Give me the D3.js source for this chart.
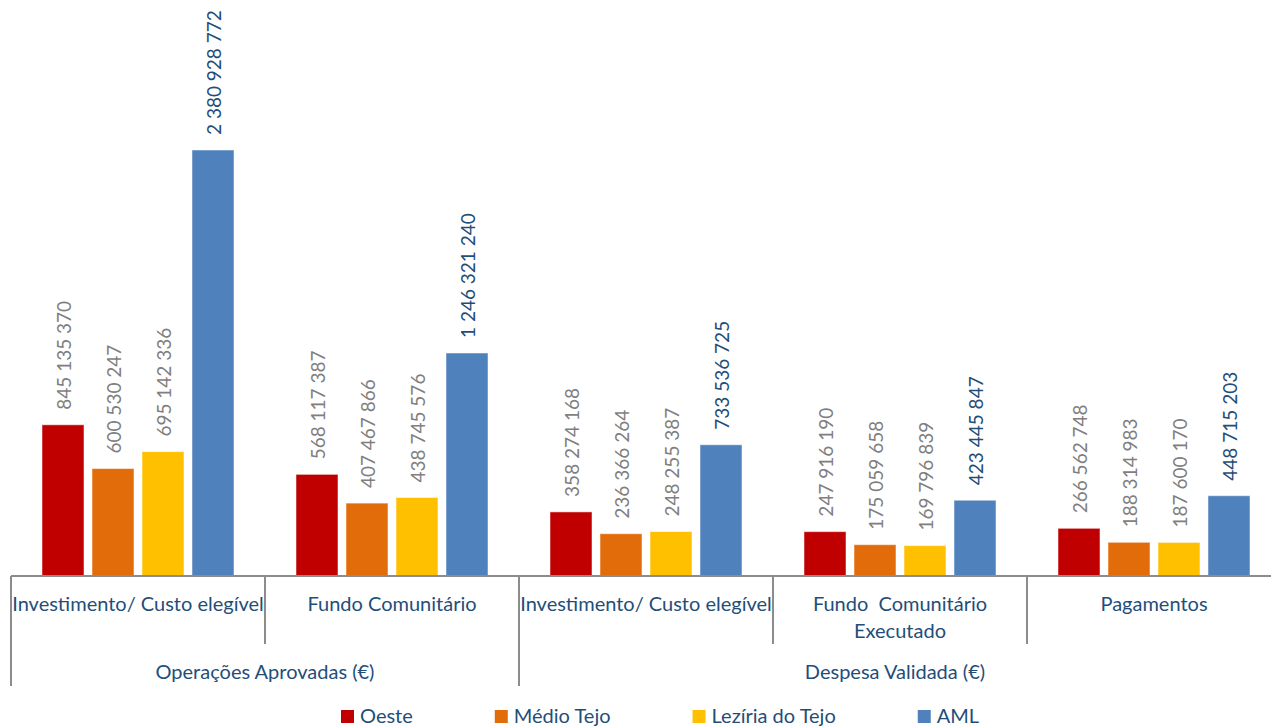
<!DOCTYPE html>
<html>
<head>
<meta charset="utf-8">
<script src="https://cdn.jsdelivr.net/npm/d3@7"></script>
<style>
  body { margin: 0; background: #fff; }
  text { font-family: Lato, "Open Sans", sans-serif; }
</style>
</head>
<body>
<div id="chart"></div>
<script>
// data
const series = ['Oeste', 'Médio Tejo', 'Lezíria do Tejo', 'AML'];
const categories = [
  ['Investimento/ Custo elegível'],
  ['Fundo Comunitário'],
  ['Investimento/ Custo elegível'],
  ['Fundo  Comunitário', 'Executado'],
  ['Pagamentos']
];
const groups = ['Operações Aprovadas (€)', 'Despesa Validada (€)'];
const groupSpans = [[0, 2], [2, 5]];
const oeste = [845135370, 568117387, 358274168, 247916190, 266562748];
const medioTejo = [600530247, 407467866, 236366264, 175059658, 188314983];
const leziria = [695142336, 438745576, 248255387, 169796839, 187600170];
const aml = [2380928772, 1246321240, 733536725, 423445847, 448715203];

const values = [oeste, medioTejo, leziria, aml];
const colors = ['#c00000', '#e36c0a', '#ffc000', '#4f81bd'];

let width = 1271,
  height = 727,
  baseY = 576,
  axisColor = '#8c8c8c',
  textBlue = '#1f4e79';

let svg = d3.select('#chart')
  .append('svg')
  .attr('width', width)
  .attr('height', height);

// outer scale for the five categories
let x0 = d3.scaleBand()
  .domain(d3.range(categories.length))
  .range([11, 11 + 254 * categories.length]);

// inner scale for the four regions
let x1 = d3.scaleBand()
  .domain(series)
  .range([0, x0.bandwidth()])
  .paddingInner(0.16)
  .paddingOuter(0.62);

let y = d3.scaleLinear()
  .domain([0, 2.5e9])
  .range([baseY, baseY - 426 * 2.5e9 / 2380928772]);

let fmt = v => d3.format(',')(v).replace(/,/g, ' ');

// bars
let rows = [];
categories.forEach((c, i) => {
  series.forEach((s, j) => {
    rows.push({ cat: i, s: s, j: j, v: values[j][i] });
  });
});

svg.append('g')
  .selectAll('rect')
  .data(rows)
  .enter()
  .append('rect')
    .attr('x', d => x0(d.cat) + x1(d.s))
    .attr('y', d => y(d.v))
    .attr('width', x1.bandwidth())
    .attr('height', d => baseY - y(d.v))
    .attr('fill', d => colors[d.j])
    .attr('stroke', 'rgba(255,255,255,0.5)')
    .attr('stroke-width', 1);

// value labels, rotated
svg.append('g')
  .selectAll('text')
  .data(rows)
  .enter()
  .append('text')
    .attr('transform', d => `translate(${x0(d.cat) + x1(d.s) + x1.bandwidth() / 2 + 1}, ${y(d.v) - 15}) rotate(-90)`)
    .attr('dy', '0.36em')
    .style('font-size', '19px')
    .style('fill', d => d.j === 3 ? textBlue : '#7f7f7f')
    .text(d => fmt(d.v));

// baseline
svg.append('line')
  .attr('x1', 11).attr('x2', width)
  .attr('y1', baseY).attr('y2', baseY)
  .attr('stroke', axisColor)
  .attr('stroke-width', 2);

// separators between categories
let sepLong = [0, 2];
d3.range(categories.length).forEach(i => {
  let x = Math.round(x0(i));
  svg.append('line')
    .attr('x1', x).attr('x2', x)
    .attr('y1', baseY).attr('y2', sepLong.includes(i) ? 686 : 644)
    .attr('stroke', axisColor)
    .attr('stroke-width', 2);
});

// category labels
let catText = svg.append('g')
  .selectAll('text')
  .data(categories)
  .enter()
  .append('text')
    .attr('x', (d, i) => x0(i) + x0.bandwidth() / 2)
    .attr('y', 611)
    .attr('text-anchor', 'middle')
    .style('font-size', '20px')
    .style('fill', textBlue);
catText.each(function(d) {
  let t = d3.select(this);
  d.forEach((line, k) => {
    t.append('tspan')
      .attr('x', t.attr('x'))
      .attr('dy', k === 0 ? 0 : 27)
      .style('white-space', 'pre')
      .attr('xml:space', 'preserve')
      .text(line);
  });
});

// group labels
svg.append('g')
  .selectAll('text')
  .data(groups)
  .enter()
  .append('text')
    .attr('x', (d, i) => (x0(groupSpans[i][0]) + Math.min(width, x0(groupSpans[i][1] - 1) + x0.bandwidth())) / 2)
    .attr('y', 679)
    .attr('text-anchor', 'middle')
    .style('font-size', '20px')
    .style('fill', textBlue)
    .text(d => d);

// legend
let legend = svg.append('g');
let lx = 341;
series.forEach((s, j) => {
  legend.append('rect')
    .attr('x', lx).attr('y', 710)
    .attr('width', 13).attr('height', 13)
    .attr('fill', colors[j]);
  let t = legend.append('text')
    .attr('x', lx + 19)
    .attr('y', 723)
    .style('font-size', '20px')
    .style('fill', textBlue)
    .text(s);
  lx += 19 + t.node().getComputedTextLength() + 82;
});
</script>
</body>
</html>
